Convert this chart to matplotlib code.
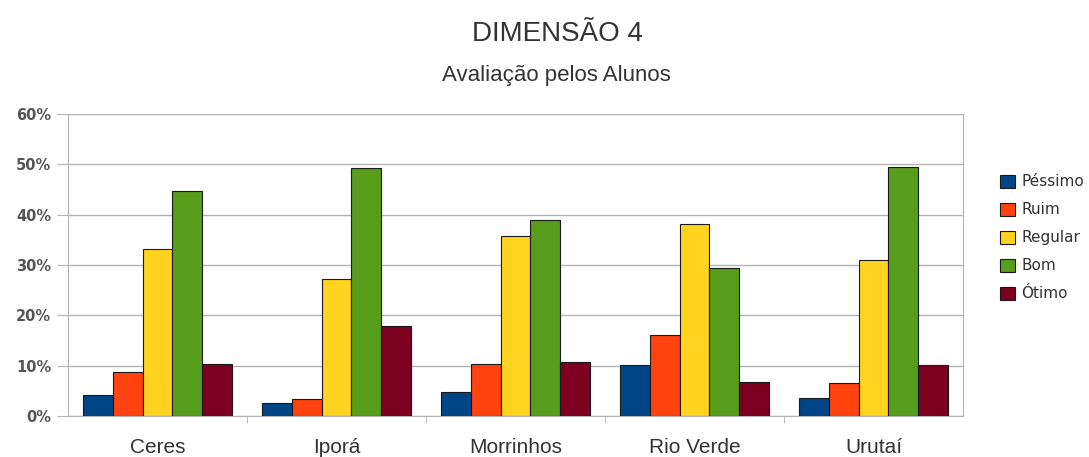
import numpy as np
import matplotlib.pyplot as plt
from matplotlib.ticker import PercentFormatter

# data (percent)
campi = ["Ceres", "Iporá", "Morrinhos", "Rio Verde", "Urutaí"]
series = ["Péssimo", "Ruim", "Regular", "Bom", "Ótimo"]
pessimo = [4.1, 2.5, 4.7, 10.1, 3.6]
ruim = [8.7, 3.3, 10.4, 16.0, 6.6]
regular = [33.2, 27.3, 35.8, 38.1, 31.0]
bom = [44.8, 49.2, 38.9, 29.5, 49.4]
otimo = [10.4, 17.8, 10.7, 6.8, 10.1]
colors = ["#004586", "#ff420e", "#ffd320", "#579d1c", "#7e0021"]

plt.rcParams["font.family"] = ["Liberation Sans", "DejaVu Sans"]

fig = plt.figure(figsize=(10.89, 4.57), dpi=100)
ax = fig.add_axes([0.0624, 0.0897, 0.8219, 0.6608])

x = np.arange(len(campi))
w = 0.1665
for i, (name, vals) in enumerate(zip(series, [pessimo, ruim, regular, bom, otimo])):
    ax.bar(x + (i - 2) * w, vals, width=w, color=colors[i], edgecolor="#1a1a1a",
           linewidth=0.8, label=name, zorder=3)

ax.set_xlim(-0.5, len(campi) - 0.5)
ax.set_ylim(0, 60)
ax.set_yticks(np.arange(0, 61, 10))
ax.yaxis.set_major_formatter(PercentFormatter(decimals=0))
ax.grid(axis="y", color="#b3b3b3", linewidth=1.0, zorder=0)
ax.tick_params(axis="y", length=8, color="#b3b3b3", labelsize=10.5,
               labelcolor="#555555", pad=4)
for lab in ax.get_yticklabels():
    lab.set_fontweight("bold")
    lab.set_family(["DejaVu Sans"])

ax.set_xticks(x)
ax.set_xticklabels(campi, fontsize=15, color="#333333")
ax.tick_params(axis="x", length=0, pad=16)
ax.set_xticks(np.arange(0.5, len(campi) - 0.5, 1), minor=True)
ax.tick_params(axis="x", which="minor", length=5, color="#b3b3b3")

ax.spines["top"].set_visible(False)
for side in ["left", "right", "bottom"]:
    ax.spines[side].set_color("#b3b3b3")

fig.text(0.512, 0.925, "DIMENSÃO 4", ha="center", va="center", fontsize=20, color="#333333")
fig.text(0.511, 0.835, "Avaliação pelos Alunos", ha="center", va="center", fontsize=16, color="#333333")

leg = ax.legend(loc="upper left", bbox_to_anchor=(1.035, 0.82), frameon=False,
                fontsize=11, handlelength=0.95, handleheight=0.95, handletextpad=0.4,
                labelspacing=0.85, borderaxespad=0)
for t in leg.get_texts():
    t.set_color("#333333")
    t.set_family(["DejaVu Sans"])

fig.savefig("out.png", dpi=100)
